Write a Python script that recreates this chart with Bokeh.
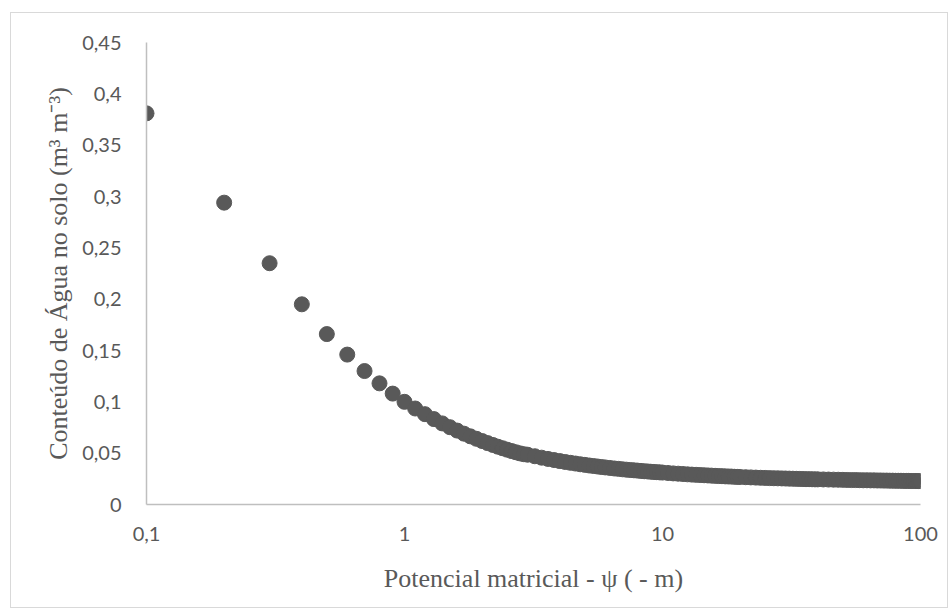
from bokeh.plotting import figure
from bokeh.models import FixedTicker, ColumnDataSource
from bokeh.embed import file_html
from bokeh.resources import INLINE

# Matric potential (-m) and volumetric soil water content (m3 m-3)
psi = [
    0.1, 0.2, 0.3, 0.4, 0.5, 0.6, 0.7, 0.8, 0.9, 1.0,
    1.1, 1.2, 1.3, 1.4, 1.5, 1.6, 1.7, 1.8, 1.9, 2.0,
    2.1, 2.2, 2.3, 2.4, 2.5, 2.6, 2.7, 2.8, 2.9, 3.0,
    3.2, 3.4, 3.6, 3.8, 4.0, 4.2, 4.4, 4.6, 4.8, 5.0,
    5.2, 5.4, 5.6, 5.8, 6.0, 6.25, 6.5, 6.75, 7.0, 7.25,
    7.5, 7.75, 8.0, 8.25, 8.5, 8.75, 9.0, 9.25, 9.5, 9.75,
    10.0, 10.5, 11, 11.5, 12, 12.5, 13, 13.5, 14, 14.5,
    15, 15.5, 16, 16.5, 17, 17.5, 18, 18.5, 19, 19.5,
    20, 21, 22, 23, 24, 25, 26, 27, 28, 29,
    30, 31, 32, 33, 34, 35, 36, 37, 38, 39,
    40, 42, 44, 46, 48, 50, 52, 54, 56, 58,
    60, 62, 64, 66, 68, 70, 72, 74, 76, 78,
    80, 82, 84, 86, 88, 90, 92, 94, 96, 98, 100,
]
theta = [
    0.381, 0.294, 0.235, 0.195, 0.166, 0.146, 0.130, 0.118, 0.108, 0.100,
    0.0935, 0.0880, 0.0832, 0.0790, 0.0753, 0.0720, 0.0690, 0.0664, 0.0640, 0.0618,
    0.0598, 0.0580, 0.0563, 0.0548, 0.0534, 0.0521, 0.0509, 0.0498, 0.0490, 0.0485,
    0.0470, 0.0456, 0.0444, 0.0433, 0.0423, 0.0414, 0.0406, 0.0399, 0.0392, 0.0386,
    0.0380, 0.0375, 0.0370, 0.0365, 0.0361, 0.0356, 0.0351, 0.0347, 0.0343, 0.0339,
    0.0336, 0.0333, 0.0330, 0.0327, 0.0324, 0.0322, 0.0319, 0.0317, 0.0315, 0.0313,
    0.0311, 0.0307, 0.0303, 0.0300, 0.0297, 0.0294, 0.0291, 0.0289, 0.0287, 0.0285,
    0.0283, 0.0281, 0.0279, 0.0277, 0.0276, 0.0274, 0.0273, 0.0272, 0.0270, 0.0269,
    0.0268, 0.0266, 0.0264, 0.0262, 0.0260, 0.0259, 0.0257, 0.0256, 0.0255, 0.0254,
    0.0253, 0.0252, 0.0251, 0.0250, 0.0249, 0.0248, 0.0247, 0.0247, 0.0246, 0.0245,
    0.0245, 0.0244, 0.0243, 0.0242, 0.0241, 0.0240, 0.0239, 0.0238, 0.0238, 0.0237,
    0.0236, 0.0236, 0.0235, 0.0235, 0.0234, 0.0234, 0.0233, 0.0233, 0.0232, 0.0232,
    0.0231, 0.0231, 0.0231, 0.0230, 0.0230, 0.0230, 0.0229, 0.0229, 0.0229, 0.0228, 0.0228,
]

x_ticks = [0.1, 1, 10, 100]
x_tick_labels = ["0,1", "1", "10", "100"]
y_ticks = [0, 0.05, 0.1, 0.15, 0.2, 0.25, 0.3, 0.35, 0.4, 0.45]
y_tick_labels = ["0", "0,05", "0,1", "0,15", "0,2", "0,25", "0,3", "0,35", "0,4", "0,45"]

source = ColumnDataSource(data=dict(psi=psi, theta=theta))

p = figure(
    width=938, height=596,
    x_axis_type="log", x_range=(0.1, 100), y_range=(0, 0.45),
    output_backend="svg", toolbar_location=None,
    min_border_left=135, min_border_right=29,
    min_border_top=29, min_border_bottom=105,
)
p.margin = (12, 0, 0, 10)
p.styles = {"border": "1px solid #d9d9d9"}
p.outline_line_color = None
p.background_fill_color = "white"
p.border_fill_color = "white"
p.grid.visible = False

p.scatter("psi", "theta", source=source, size=15,
          fill_color="#595959", line_color="#595959")

tick_font = "Lato"
for ax in (p.xaxis[0], p.yaxis[0]):
    ax.axis_line_color = "#bfbfbf"
    ax.axis_line_width = 1.5
    ax.major_tick_line_color = None
    ax.minor_tick_line_color = None
    ax.major_label_text_font = tick_font
    ax.major_label_text_font_size = "20px"
    ax.major_label_text_color = "#595959"
    ax.axis_label_text_font = "Liberation Serif"
    ax.axis_label_text_font_style = "normal"
    ax.axis_label_text_font_size = "26px"
    ax.axis_label_text_color = "#595959"

p.xaxis.ticker = FixedTicker(ticks=x_ticks)
p.xaxis.major_label_overrides = dict(zip(x_ticks, x_tick_labels))
p.xaxis.major_label_standoff = 16
p.xaxis.axis_label = "Potencial matricial - ψ ( - m)"
p.xaxis.axis_label_standoff = 20

p.yaxis.ticker = FixedTicker(ticks=y_ticks)
p.yaxis.major_label_overrides = dict(zip(y_ticks, y_tick_labels))
p.yaxis.major_label_standoff = 19
p.yaxis.axis_label = "Conteúdo de Água no solo (m³ m⁻³)"
p.yaxis.axis_label_standoff = 6

open("out.html", "w").write(file_html(p, INLINE))
